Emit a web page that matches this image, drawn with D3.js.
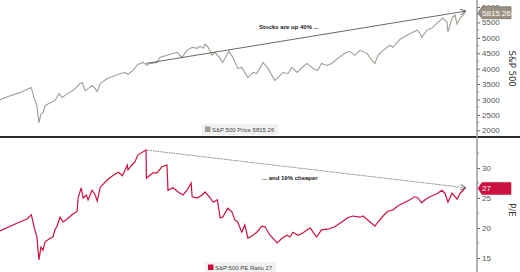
<!DOCTYPE html>
<html>
<head>
<meta charset="utf-8">
<script src="https://cdn.jsdelivr.net/npm/d3@7"></script>
<style>
  body { margin: 0; background: #fff; }
  svg { display: block; font-family: "DejaVu Sans", Verdana, sans-serif; }
  .tick-label { font-size: 8px; fill: #555; }
  .note { font-size: 6px; font-weight: bold; fill: #222; font-family: "Liberation Sans", Arial, sans-serif; }
  .legend-text { font-size: 6px; fill: #444; font-family: "Liberation Sans", Arial, sans-serif; }
  .tag-text { font-size: 8px; fill: #fff; font-family: "Liberation Sans", Arial, sans-serif; }
</style>
</head>
<body>
<div id="chart"></div>
<script>
var svgWidth = 520;
var svgHeight = 272;

// S&P 500 price
var spxSeries = [
  ["2019-10-25", 2994], ["2019-12-04", 3124], ["2020-01-11", 3222], ["2020-02-08", 3320],
  ["2020-02-25", 3386], ["2020-02-28", 3288], ["2020-03-08", 3026], ["2020-03-18", 2797],
  ["2020-03-26", 2242], ["2020-04-03", 2536], ["2020-04-11", 2569], ["2020-04-19", 2797],
  ["2020-05-09", 2895], ["2020-05-28", 2961], ["2020-06-13", 3190], ["2020-06-25", 3059],
  ["2020-07-15", 3190], ["2020-08-07", 3288], ["2020-09-04", 3516], ["2020-09-12", 3549],
  ["2020-09-24", 3288], ["2020-10-05", 3353], ["2020-10-21", 3451], ["2020-11-02", 3353],
  ["2020-11-10", 3255], ["2020-11-22", 3516], ["2020-12-19", 3680], ["2021-01-20", 3778],
  ["2021-02-09", 3843], ["2021-03-01", 3876], ["2021-03-11", 3810], ["2021-03-30", 3941],
  ["2021-04-19", 4137], ["2021-05-09", 4203], ["2021-05-24", 4105], ["2021-06-05", 4170],
  ["2021-07-03", 4203], ["2021-07-14", 4366], ["2021-08-23", 4464], ["2021-09-20", 4529],
  ["2021-10-09", 4366], ["2021-10-29", 4595], ["2021-11-18", 4693], ["2021-12-08", 4660],
  ["2021-12-19", 4725], ["2021-12-31", 4660], ["2022-01-08", 4791], ["2022-01-20", 4693],
  ["2022-02-04", 4431], ["2022-02-15", 4529], ["2022-03-08", 4333], ["2022-03-18", 4203],
  ["2022-04-11", 4562], ["2022-04-27", 4366], ["2022-05-16", 4007], ["2022-06-01", 4039],
  ["2022-06-25", 3712], ["2022-07-15", 3876], ["2022-07-30", 3843], ["2022-08-23", 4203],
  ["2022-09-12", 4007], ["2022-10-09", 3614], ["2022-10-21", 3712], ["2022-11-10", 3876],
  ["2022-11-30", 3843], ["2022-12-15", 4039], ["2023-01-04", 3876], ["2023-01-24", 4039],
  ["2023-02-13", 4170], ["2023-03-08", 4007], ["2023-03-26", 3941], ["2023-04-10", 4170],
  ["2023-05-01", 4105], ["2023-05-20", 4170], ["2023-06-13", 4333], ["2023-07-11", 4497],
  ["2023-07-30", 4562], ["2023-08-19", 4431], ["2023-09-08", 4595], ["2023-10-06", 4497],
  ["2023-10-25", 4268], ["2023-11-06", 4170], ["2023-11-18", 4431], ["2023-12-08", 4595],
  ["2024-01-04", 4758], ["2024-01-16", 4693], ["2024-02-13", 4954], ["2024-03-11", 5085],
  ["2024-04-03", 5183], ["2024-04-19", 5248], ["2024-05-01", 5150], ["2024-05-08", 5020],
  ["2024-05-28", 5248], ["2024-06-17", 5314], ["2024-07-07", 5477], ["2024-07-30", 5641],
  ["2024-08-15", 5510], ["2024-08-19", 5183], ["2024-09-04", 5641], ["2024-09-16", 5739],
  ["2024-09-24", 5444], ["2024-10-06", 5641], ["2024-10-18", 5739], ["2024-10-25", 5815.26]
];

// S&P 500 P/E ratio
var peSeries = [
  ["2019-10-25", 19.5], ["2019-12-04", 20.3], ["2020-01-11", 21.0], ["2020-02-08", 21.5],
  ["2020-02-25", 22.2], ["2020-02-28", 21.7], ["2020-03-08", 20.0], ["2020-03-18", 18.5],
  ["2020-03-26", 14.7], ["2020-04-03", 16.8], ["2020-04-11", 16.3], ["2020-04-19", 17.7],
  ["2020-05-09", 18.3], ["2020-05-20", 18.5], ["2020-05-28", 19.7], ["2020-06-05", 20.3],
  ["2020-06-17", 21.8], ["2020-06-29", 21.0], ["2020-07-15", 21.5], ["2020-08-03", 22.2],
  ["2020-08-23", 22.8], ["2020-08-27", 25.0], ["2020-09-08", 26.7], ["2020-09-16", 25.0],
  ["2020-09-28", 25.5], ["2020-10-05", 24.7], ["2020-10-21", 26.3], ["2020-11-02", 25.5],
  ["2020-11-10", 24.5], ["2020-11-22", 26.8], ["2020-12-19", 28.0], ["2021-01-12", 28.8],
  ["2021-02-01", 29.3], ["2021-02-17", 28.7], ["2021-03-08", 30.5], ["2021-03-11", 29.7],
  ["2021-03-26", 30.5], ["2021-04-07", 31.0], ["2021-04-19", 32.2], ["2021-05-13", 32.8],
  ["2021-05-21", 33.0], ["2021-05-22", 28.3], ["2021-05-28", 28.5], ["2021-06-17", 29.2],
  ["2021-07-03", 29.2], ["2021-07-22", 30.2], ["2021-08-11", 30.5], ["2021-08-15", 26.3],
  ["2021-09-04", 26.7], ["2021-09-24", 26.0], ["2021-10-13", 25.5], ["2021-10-29", 26.3],
  ["2021-11-14", 27.5], ["2021-11-18", 25.2], ["2021-12-08", 25.0], ["2021-12-27", 25.5],
  ["2022-01-08", 26.0], ["2022-01-28", 25.0], ["2022-02-09", 24.3], ["2022-02-25", 24.7],
  ["2022-03-08", 21.7], ["2022-03-18", 21.8], ["2022-04-07", 23.3], ["2022-04-23", 22.7],
  ["2022-05-05", 21.3], ["2022-05-16", 21.0], ["2022-06-01", 19.3], ["2022-06-13", 20.5],
  ["2022-06-25", 18.3], ["2022-07-15", 18.8], ["2022-07-30", 19.3], ["2022-08-19", 20.3],
  ["2022-08-31", 20.2], ["2022-09-20", 18.8], ["2022-10-18", 17.5], ["2022-11-06", 18.3],
  ["2022-11-26", 18.8], ["2022-12-07", 18.5], ["2022-12-19", 19.3], ["2023-01-08", 18.8],
  ["2023-01-28", 19.2], ["2023-02-13", 19.7], ["2023-02-25", 20.0], ["2023-03-08", 19.3],
  ["2023-03-22", 18.5], ["2023-04-10", 19.7], ["2023-05-05", 19.8], ["2023-06-01", 20.2],
  ["2023-06-29", 21.0], ["2023-07-22", 21.7], ["2023-08-11", 22.0], ["2023-09-08", 21.8],
  ["2023-09-20", 22.0], ["2023-10-18", 21.0], ["2023-11-06", 20.3], ["2023-11-18", 21.0],
  ["2023-12-08", 22.0], ["2023-12-27", 22.8], ["2024-01-16", 23.0], ["2024-02-05", 23.7],
  ["2024-03-04", 24.3], ["2024-03-22", 24.7], ["2024-04-11", 25.2], ["2024-04-23", 25.0],
  ["2024-05-08", 24.2], ["2024-05-21", 24.7], ["2024-06-09", 25.2], ["2024-07-07", 25.7],
  ["2024-07-26", 26.3], ["2024-08-07", 25.8], ["2024-08-19", 24.3], ["2024-09-04", 25.8],
  ["2024-09-24", 24.8], ["2024-10-06", 25.8], ["2024-10-18", 26.3], ["2024-10-25", 26.6]
];

var spxTicks = [2000, 2500, 3000, 3500, 4000, 4500, 5000, 5500, 6000];
var peTicks = [15, 20, 25, 30];

// arrow annotations: [start date, start value, end date, end value]
var spxArrow = ["2021-05-21", 4170, "2024-10-25", 5869];
var peArrow = ["2021-05-21", 33.0, "2024-10-25", 26.7];

var parseDate = d3.timeParse("%Y-%m-%d");
var spxData = spxSeries.map(d => ({ date: parseDate(d[0]), value: d[1] }));
var peData = peSeries.map(d => ({ date: parseDate(d[0]), value: d[1] }));

var axisX = 477;
var splitY = 137;

var svg = d3.select("#chart")
  .append("svg")
  .attr("width", svgWidth)
  .attr("height", svgHeight);

svg.append("defs").append("marker")
  .attr("id", "arrowhead")
  .attr("viewBox", "0 0 10 10")
  .attr("refX", 9)
  .attr("refY", 5)
  .attr("markerWidth", 7)
  .attr("markerHeight", 7)
  .attr("markerUnits", "userSpaceOnUse")
  .attr("orient", "auto")
  .append("path")
  .attr("d", "M1,1 L9,5 L1,9")
  .attr("fill", "none")
  .attr("stroke", "#555")
  .attr("stroke-width", 1.2);

// scales
var xScale = d3.scaleTime()
  .domain([parseDate("2019-10-25"), parseDate("2024-10-25")])
  .range([0, 465]);

var ySpx = d3.scaleLinear()
  .domain([2000, 6000])
  .range([130.3, 7]);

var yPe = d3.scaleLinear()
  .domain([15, 30])
  .range([258, 168]);

// panel separator
svg.append("line")
  .attr("x1", 0).attr("x2", svgWidth)
  .attr("y1", splitY).attr("y2", splitY)
  .attr("stroke", "#2b2b2b")
  .attr("stroke-width", 2);

// right axes
function drawAxis(scale, ticks, minorStep, yTop, yBottom) {
  var g = svg.append("g").attr("transform", `translate(${axisX},0)`);
  var axis = d3.axisRight(scale)
    .tickValues(ticks)
    .tickFormat(d3.format("d"))
    .tickSize(3)
    .tickPadding(2);
  g.call(axis);
  g.select(".domain").remove();
  g.selectAll(".tick line").attr("stroke", "#666");
  g.selectAll(".tick text")
    .attr("class", "tick-label")
    .attr("font-size", null)
    .attr("font-family", null);

  var lo = scale.invert(yBottom), hi = scale.invert(yTop);
  var minor = d3.range(Math.ceil(lo / minorStep) * minorStep, hi, minorStep)
    .filter(v => ticks.indexOf(v) < 0);
  g.selectAll(".minor")
    .data(minor)
    .enter()
    .append("line")
    .attr("class", "minor")
    .attr("x1", 0).attr("x2", 2)
    .attr("y1", d => scale(d)).attr("y2", d => scale(d))
    .attr("stroke", "#888");
  return g;
}

drawAxis(ySpx, spxTicks, 250, 0, splitY - 1);
drawAxis(yPe, peTicks, 2.5, splitY + 1, svgHeight);

svg.append("line")
  .attr("x1", axisX).attr("x2", axisX)
  .attr("y1", 0).attr("y2", svgHeight)
  .attr("stroke", "#999")
  .attr("stroke-width", 1.5);

// axis titles
svg.append("text")
  .attr("transform", `translate(509, ${ySpx(4000)}) rotate(90)`)
  .attr("text-anchor", "middle")
  .attr("font-size", 8.5)
  .attr("fill", "#333")
  .text("S&P 500");

svg.append("text")
  .attr("transform", `translate(509, 210) rotate(90)`)
  .attr("text-anchor", "middle")
  .attr("font-size", 8.5)
  .attr("fill", "#333")
  .text("P/E");

// lines
var spxLine = d3.line()
  .x(d => xScale(d.date))
  .y(d => ySpx(d.value));

var peLine = d3.line()
  .x(d => xScale(d.date))
  .y(d => yPe(d.value));

svg.append("path")
  .datum(spxData)
  .attr("d", spxLine)
  .attr("fill", "none")
  .attr("stroke", "#a39c92")
  .attr("stroke-width", 1.1);

svg.append("path")
  .datum(peData)
  .attr("d", peLine)
  .attr("fill", "none")
  .attr("stroke", "#cc1040")
  .attr("stroke-width", 1.2);

// arrows
svg.append("line")
  .attr("x1", xScale(parseDate(spxArrow[0]))).attr("y1", ySpx(spxArrow[1]))
  .attr("x2", xScale(parseDate(spxArrow[2])) + 1).attr("y2", ySpx(spxArrow[3]))
  .attr("stroke", "#444")
  .attr("stroke-width", 0.8)
  .attr("marker-end", "url(#arrowhead)");

svg.append("line")
  .attr("x1", xScale(parseDate(peArrow[0]))).attr("y1", yPe(peArrow[1]))
  .attr("x2", xScale(parseDate(peArrow[2])) + 1).attr("y2", yPe(peArrow[3]))
  .attr("stroke", "#666")
  .attr("stroke-width", 0.8)
  .attr("stroke-dasharray", "1.5,0.8")
  .attr("marker-end", "url(#arrowhead)");

svg.append("text").attr("class", "note")
  .attr("x", 259).attr("y", 29)
  .text("Stocks are up 40% ...");

svg.append("text").attr("class", "note")
  .attr("x", 262).attr("y", 180)
  .text("... and 19% cheaper");

// last value tags
function drawTag(cy, label, fill, stroke) {
  var g = svg.append("g");
  g.append("path")
    .attr("d", `M${axisX + 1},${cy} L${axisX + 5},${cy - 6} L511,${cy - 6} L511,${cy + 6} L${axisX + 5},${cy + 6} Z`)
    .attr("fill", fill)
    .attr("stroke", stroke)
    .attr("stroke-width", 0.6);
  g.append("text")
    .attr("class", "tag-text")
    .attr("x", axisX + 5)
    .attr("y", cy + 3)
    .text(label);
}

var lastSpx = spxData[spxData.length - 1];
var lastPe = peData[peData.length - 1];
drawTag(ySpx(lastSpx.value), d3.format(".2f")(lastSpx.value), "#9d9184", "#5e554c");
drawTag(yPe(lastPe.value), d3.format(".0f")(lastPe.value), "#cc1040", "#cc1040");

// legends
function drawLegend(x, y, color, label) {
  var g = svg.append("g").attr("transform", `translate(${x},${y})`);
  var t = g.append("text")
    .attr("class", "legend-text")
    .attr("x", 10).attr("y", 8)
    .text(label);
  var w = t.node().getComputedTextLength();
  g.insert("rect", "text")
    .attr("x", 0).attr("y", 0)
    .attr("width", w + 14).attr("height", 11)
    .attr("fill", "#f1f1f1");
  g.append("rect")
    .attr("x", 3).attr("y", 2.5)
    .attr("width", 5.5).attr("height", 5.5)
    .attr("fill", color);
}

drawLegend(202, 124, "#a39c92", "S&P 500 Price " + d3.format(".2f")(lastSpx.value));
drawLegend(205, 262, "#cc1040", "S&P 500 PE Ratio " + d3.format(".0f")(lastPe.value));
</script>
</body>
</html>
